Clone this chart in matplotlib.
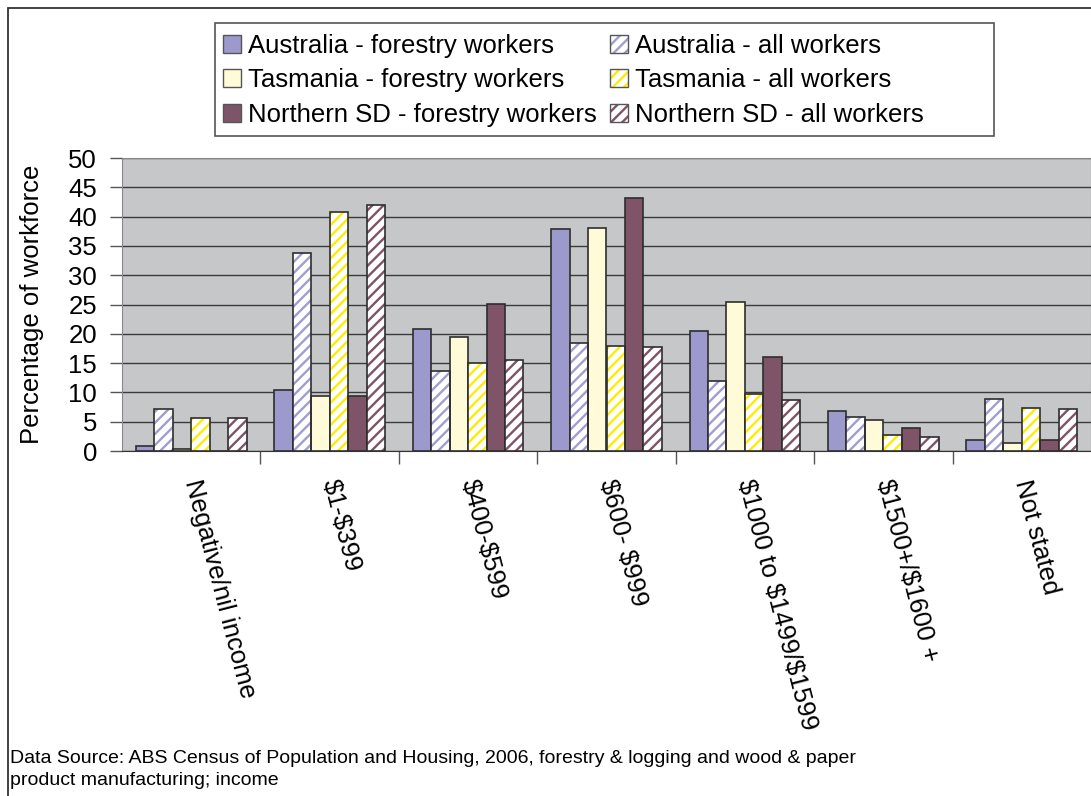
"""
Income distribution of forestry workers vs all workers (ABS Census 2006).
"""

import numpy as np
import matplotlib
matplotlib.use("Agg")
import matplotlib.pyplot as plt
from matplotlib.patches import Patch, Rectangle

# ============================== data =========================================

categories = [r"Negative/nil income", r"\$1-\$399", r"\$400-\$599", r"\$600- \$999",
              r"\$1000 to \$1499/\$1599", r"\$1500+/\$1600 +", r"Not stated"]

aus_forestry = [0.9, 10.4, 20.9, 37.8, 20.5, 6.9, 1.9]
aus_all = [7.1, 33.8, 13.6, 18.4, 11.9, 5.8, 8.8]
tas_forestry = [0.3, 9.4, 19.5, 38.1, 25.4, 5.3, 1.4]
tas_all = [5.6, 40.7, 15.1, 18.0, 9.8, 2.8, 7.4]
nsd_forestry = [0.0, 9.4, 25.1, 43.1, 16.1, 3.9, 1.9]
nsd_all = [5.6, 42.0, 15.5, 17.8, 8.7, 2.4, 7.1]

series = [
    ("Australia - forestry workers", aus_forestry, "#9c99cc", False),
    ("Australia - all workers", aus_all, "#a19dd0", True),
    ("Tasmania - forestry workers", tas_forestry, "#fffbd8", False),
    ("Tasmania - all workers", tas_all, "#ffec00", True),
    ("Northern SD - forestry workers", nsd_forestry, "#7f5468", False),
    ("Northern SD - all workers", nsd_all, "#7f5468", True),
]

# ============================== main =========================================

W, H = 1091, 796
plt.rcParams.update({'font.family': ['Liberation Sans', 'DejaVu Sans'],
                     'font.size': 18.5, 'hatch.linewidth': 1.7})

fig = plt.figure(figsize=(W / 100, H / 100), dpi=100)
ax = fig.add_axes([122 / W, 1 - 451 / H, 969 / W, (451 - 158) / H])
ax.set_facecolor("#c6c7c9")

x = np.arange(len(categories))
width = 1 / 7.5
edge = "#2e2e2e"
hatch = "///"
handles = {}
for i, (label, vals, color, hatched) in enumerate(series):
    pos = x + (i - 2.5) * width
    if hatched:
        ax.bar(pos, vals, width, color="white", edgecolor=color, hatch=hatch,
               linewidth=0, zorder=3)
        ax.bar(pos, vals, width, facecolor="none", edgecolor=edge,
               linewidth=1.2, zorder=4)
        handles[label] = (Patch(facecolor="white", edgecolor=color, hatch=hatch, linewidth=0),
                          Patch(facecolor="none", edgecolor="#555555", linewidth=1.0))
    else:
        ax.bar(pos, vals, width, color=color, edgecolor=edge, linewidth=1.2, zorder=3)
        handles[label] = Patch(facecolor=color, edgecolor="#555555", linewidth=1.0)

# y axis
ax.set_ylim(0, 50)
ax.set_yticks(range(0, 51, 5))
ax.yaxis.grid(True, color="#3a3a3a", linewidth=1.0, zorder=1)
ax.set_axisbelow(True)
ax.tick_params(axis='y', length=9, width=1, color="#555555", pad=9)
ax.set_ylabel("Percentage of workforce")
ax.yaxis.set_label_coords(-(122 - 44) / 969, 0.5)

# x axis: labels at centres, tick marks at category boundaries
ax.set_xlim(-0.5, len(categories) - 0.5)
ax.set_xticks(x)
ax.set_xticklabels(categories, rotation=-75.5, ha='left', va='center',
                   rotation_mode='anchor', fontsize=18.5)
ax.set_xticks(np.arange(0.5, len(categories) - 0.5), minor=True)
ax.tick_params(axis='x', which='major', length=0, pad=21)
ax.tick_params(axis='x', which='minor', length=9, width=1, color="#555555")

for side in ["left", "top", "right"]:
    ax.spines[side].set_color("#888888")
ax.spines["bottom"].set_color("#333333")

# legend (row order as in the source: forestry / all workers side by side)
order = ["Australia - forestry workers", "Tasmania - forestry workers",
         "Northern SD - forestry workers", "Australia - all workers",
         "Tasmania - all workers", "Northern SD - all workers"]
fig.legend([handles[k] for k in order], order, ncol=2, loc='upper left',
           bbox_to_anchor=(223 / W, 1 - 34 / H), frameon=False, borderpad=0,
           borderaxespad=0, handlelength=0.7, handleheight=0.7,
           handletextpad=0.28, columnspacing=0.5, labelspacing=0.4,
           fontsize=18.5)
fig.patches.append(Rectangle((215 / W, 1 - 136 / H), (994 - 215) / W, (136 - 22.7) / H,
                             transform=fig.transFigure, facecolor="none",
                             edgecolor="#555555", linewidth=1.2))

# outer chart border
fig.patches.append(Rectangle((7.5 / W, -0.05), 1.1, 1 - 7.5 / H + 0.05,
                             transform=fig.transFigure, facecolor="none",
                             edgecolor="#333333", linewidth=1.3))

fig.text(10 / W, 1 - 750 / H,
         "Data Source: ABS Census of Population and Housing, 2006, forestry & logging and wood & paper\n"
         "product manufacturing; income", fontsize=14, va='top', ha='left',
         linespacing=1.4)

fig.savefig("out.png", dpi=100)
